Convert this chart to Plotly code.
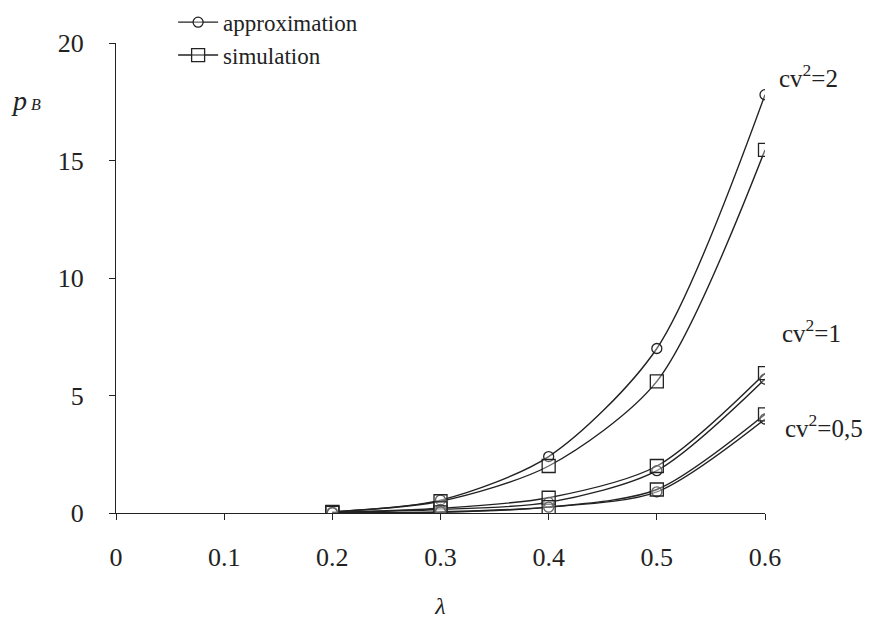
import plotly.graph_objects as go

lam = [0.2, 0.3, 0.4, 0.5, 0.6]
approx_cv2_2 = [0.05, 0.55, 2.4, 7.0, 17.8]
sim_cv2_2 = [0.05, 0.5, 2.0, 5.6, 15.45]
approx_cv2_1 = [0.03, 0.15, 0.45, 1.8, 5.7]
sim_cv2_1 = [0.03, 0.2, 0.65, 2.0, 5.95]
approx_cv2_05 = [0.01, 0.05, 0.25, 0.9, 4.0]
sim_cv2_05 = [0.01, 0.03, 0.25, 1.0, 4.2]

x_ticks = [0, 0.1, 0.2, 0.3, 0.4, 0.5, 0.6]
x_tick_labels = ["0", "0.1", "0.2", "0.3", "0.4", "0.5", "0.6"]
y_ticks = [0, 5, 10, 15, 20]

FONT = "Liberation Serif, Times New Roman, serif"
BLACK = "#222222"

fig = go.Figure()

def add(y, name, symbol, size, show):
    fig.add_trace(go.Scatter(
        x=lam, y=y, name=name, mode="lines+markers",
        line=dict(color=BLACK, width=1.4, shape="spline", smoothing=0.8),
        marker=dict(symbol=symbol, size=size, color="rgba(255,255,255,0.3)",
                    line=dict(color=BLACK, width=1.3)),
        showlegend=show,
    ))

add(approx_cv2_2, "approximation", "circle", 10, True)
add(sim_cv2_2, "simulation", "square", 13, True)
add(approx_cv2_1, "approximation", "circle", 10, False)
add(sim_cv2_1, "simulation", "square", 13, False)
add(approx_cv2_05, "approximation", "circle", 10, False)
add(sim_cv2_05, "simulation", "square", 13, False)

annots = [
    dict(x=0.6, y=18.6, text="cv<sup>2</sup>=2"),
    dict(x=0.6, y=7.75, text="cv<sup>2</sup>=1"),
    dict(x=0.6, y=3.7, text="cv<sup>2</sup>=0,5"),
]
xshifts = [12, 15, 18]
for a, xs in zip(annots, xshifts):
    fig.add_annotation(x=a["x"], y=a["y"], text=a["text"], xshift=xs,
                       xanchor="left", showarrow=False, xref="x", yref="y",
                       font=dict(family=FONT, size=25, color=BLACK))

fig.add_annotation(x=-0.139, y=1.0, xref="paper", yref="paper",
                   text="<i>p</i><span style='font-size:16px'><i> B</i></span>",
                   showarrow=False, xanchor="center", yanchor="top",
                   yshift=-40, font=dict(family=FONT, size=28, color=BLACK))

fig.update_layout(
    width=879, height=619,
    margin=dict(l=116, r=114, t=43, b=106, autoexpand=False),
    paper_bgcolor="white", plot_bgcolor="white",
    font=dict(family=FONT, size=25, color=BLACK),
    legend=dict(x=0.088, y=1.09, xanchor="left", yanchor="top",
                bgcolor="rgba(0,0,0,0)", font=dict(family=FONT, size=23),
                itemwidth=40, tracegroupgap=0),
    xaxis=dict(range=[0, 0.6], tickvals=x_ticks, ticktext=x_tick_labels,
               showgrid=False, zeroline=False, showline=True,
               linecolor=BLACK, linewidth=1, ticks="outside", ticklen=6,
               tickcolor=BLACK, ticklabelstandoff=15,
               tickfont=dict(family=FONT, size=26),
               title=dict(text="<i>λ</i>", standoff=31,
                          font=dict(family=FONT, size=24))),
    yaxis=dict(range=[0, 20], tickvals=y_ticks,
               showgrid=False, zeroline=False, showline=True,
               linecolor=BLACK, linewidth=1, ticks="outside", ticklen=6,
               tickcolor=BLACK, ticklabelstandoff=20,
               tickfont=dict(family=FONT, size=26)),
)

fig.write_html("out.html")
